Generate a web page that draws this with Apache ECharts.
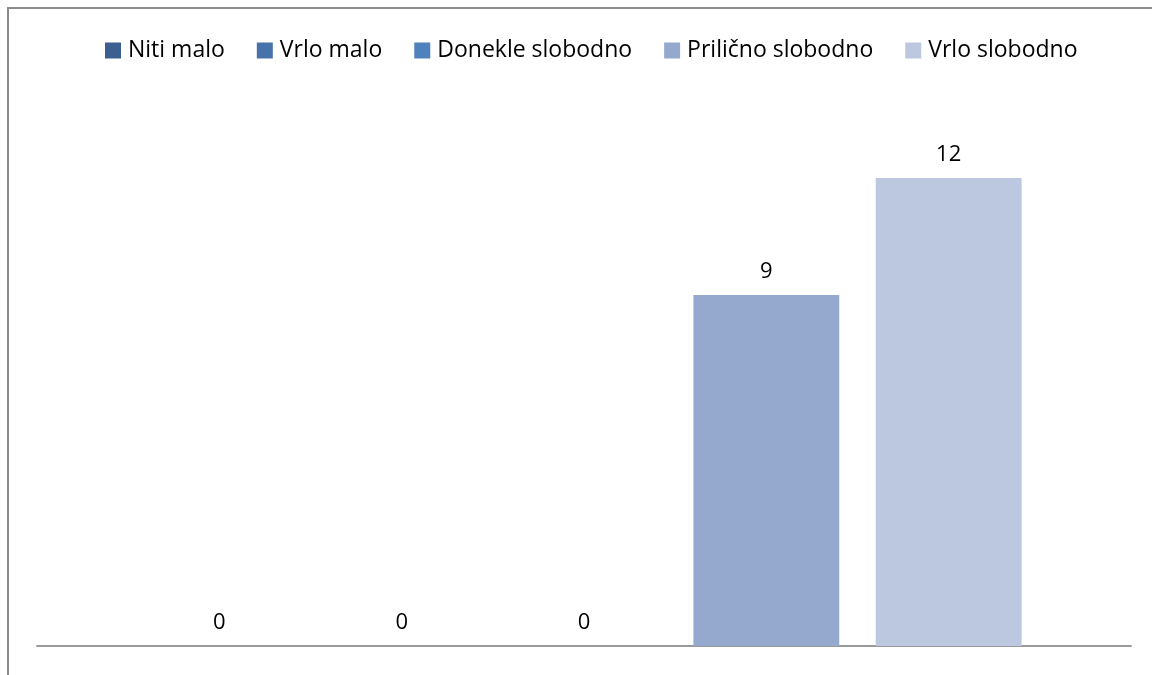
<!DOCTYPE html>
<html>
<head>
<meta charset="utf-8">
<title>Chart</title>
<script src="https://cdn.jsdelivr.net/npm/echarts@6/dist/echarts.min.js"></script>
<style>
  html, body { margin: 0; padding: 0; background: #fff; }
  #main { position: absolute; left: 0; top: 0; width: 1152px; height: 675px; }
  #frame { position: absolute; left: 7px; top: 7px; width: 1200px; height: 700px;
    border-top: 2px solid #8c8c8c; border-left: 2px solid #8c8c8c; pointer-events: none; }
</style>
</head>
<body>
<div id="main"></div>
<div id="frame"></div>
<script>
  // odgovori (jedna kategorija, pet serija)
  var categories = ['']
  var seriesNames = ['Niti malo', 'Vrlo malo', 'Donekle slobodno', 'Prilično slobodno', 'Vrlo slobodno']
  var seriesValues = [[0], [0], [0], [9], [12]]
  var colors = ['#3b5f8e', '#4772aa', '#4f81bd', '#95a9cf', '#bcc8e0']

  var chart = echarts.init(document.getElementById('main'))

  var series = seriesNames.map(function (name, i) {
    return {
      name: name,
      type: 'bar',
      data: seriesValues[i],
      barGap: '25%',
      barCategoryGap: '20%',
      itemStyle: { color: colors[i] },
      label: {
        show: true,
        position: 'top',
        distance: 12,
        color: '#000',
        fontSize: 22,
        fontFamily: 'Open Sans'
      }
    }
  })

  chart.setOption({
    animation: false,
    legend: {
      data: seriesNames,
      left: 100,
      top: 34,
      itemWidth: 16,
      itemHeight: 16,
      itemGap: 32,
      icon: 'rect',
      textStyle: {
        fontSize: 23,
        fontFamily: 'Open Sans',
        color: '#000',
        padding: [0, 0, 0, 2]
      }
    },
    grid: {
      left: 37,
      right: 21,
      top: 100,
      bottom: 29
    },
    xAxis: {
      type: 'category',
      data: categories,
      axisLine: { show: true, lineStyle: { color: '#9a9a9a', width: 2 } },
      axisTick: { show: false },
      axisLabel: { show: false }
    },
    yAxis: {
      type: 'value',
      min: 0,
      max: 14,
      interval: 2,
      show: false,
      splitLine: { show: false }
    },
    series: series
  })
</script>
</body>
</html>
